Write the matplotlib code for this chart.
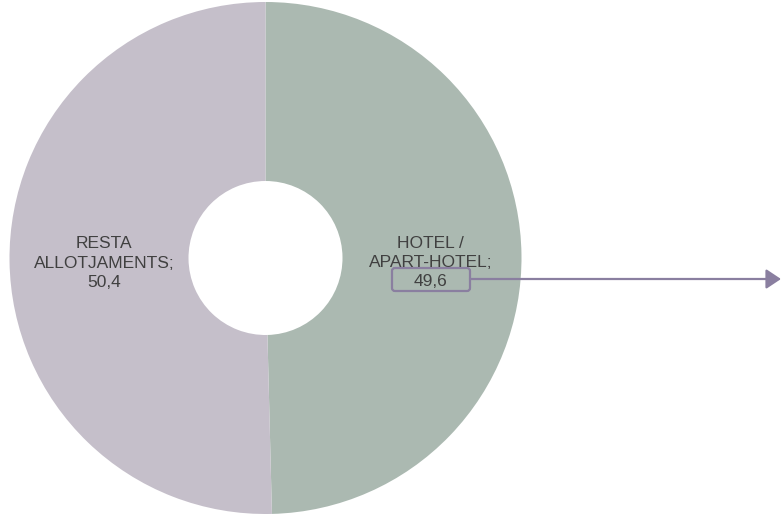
import matplotlib
matplotlib.use("Agg")
import matplotlib.pyplot as plt
from matplotlib.patches import FancyBboxPatch

plt.rcParams['font.family'] = ['Liberation Sans', 'DejaVu Sans']

# data
categories = ["HOTEL /\nAPART-HOTEL", "RESTA\nALLOTJAMENTS"]
values = [49.6, 50.4]
colors = ['#ABB9B1', '#C5BFCA']

W, H = 781, 514


def py(y):
    """pixel row (top-down) -> data y (bottom-up)"""
    return H - y


fig = plt.figure(figsize=(W / 100, H / 100), dpi=100)
ax = fig.add_axes([0, 0, 1, 1])

R_OUT, R_IN = 256, 77
cx, cy = 265.5, py(258)
ax.pie(values, colors=colors, startangle=90, counterclock=False,
       radius=R_OUT, center=(cx, cy), frame=True,
       wedgeprops=dict(width=R_OUT - R_IN, edgecolor='none'))
ax.set_xlim(0, W)
ax.set_ylim(0, H)
ax.set_aspect('equal')
ax.axis('off')

label_pos = [(430.5, py(262.5)), (104, py(263))]
txt_color = '#404040'
for (x, y), cat, val in zip(label_pos, categories, values):
    s = f"{cat};\n{val:.1f}".replace('.', ',')
    ax.text(x, y, s, ha='center', va='center', fontsize=12.5,
            color=txt_color, linespacing=1.35)

# highlight box around the hotel value + arrow
purple = '#8A7FA0'
bx0, bx1, by0, by1 = 392, 470, 268, 291
box = FancyBboxPatch((bx0, py(by1)), bx1 - bx0, by1 - by0,
                     boxstyle="round,pad=0,rounding_size=3",
                     fc='none', ec=purple, lw=1.6)
ax.add_patch(box)
ax.annotate('', xy=(781, py(279)), xytext=(bx1, py(279)),
            arrowprops=dict(arrowstyle='-|>,head_length=0.9,head_width=0.6',
                            color=purple, lw=1.6, shrinkA=0, shrinkB=0))

fig.savefig('out.png', dpi=100)
